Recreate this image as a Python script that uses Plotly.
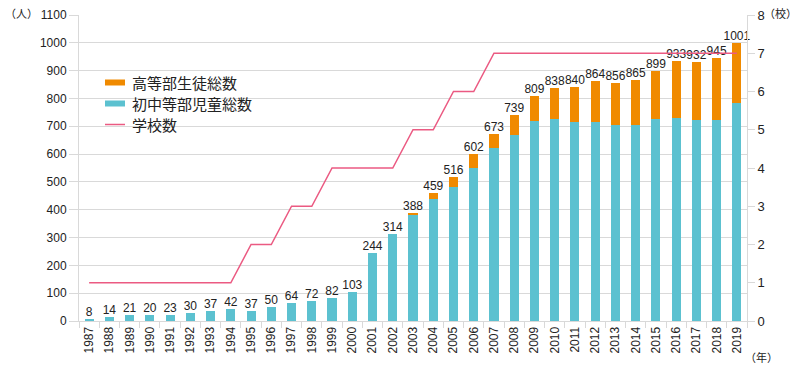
import plotly.graph_objects as go

years = [str(y) for y in range(1987, 2020)]
elementary = [8, 14, 21, 20, 23, 30, 37, 42, 37, 50, 64, 72, 82, 103, 244, 314,
              384, 440, 480, 551, 622, 668, 719, 725, 716, 715, 704, 704, 725, 731, 722, 722, 783]
high = [0, 0, 0, 0, 0, 0, 0, 0, 0, 0, 0, 0, 0, 0, 0, 0,
        4, 19, 36, 51, 51, 71, 90, 113, 124, 149, 152, 161, 174, 202, 210, 223, 218]
totals = [8, 14, 21, 20, 23, 30, 37, 42, 37, 50, 64, 72, 82, 103, 244, 314,
          388, 459, 516, 602, 673, 739, 809, 838, 840, 864, 856, 865, 899, 933, 932, 945, 1001]
schools = [1, 1, 1, 1, 1, 1, 1, 1, 2, 2, 3, 3, 4, 4, 4, 4,
           5, 5, 6, 6, 7, 7, 7, 7, 7, 7, 7, 7, 7, 7, 7, 7, 7]

legend_names = ["高等部生徒総数", "初中等部児童総数", "学校数"]

ORANGE = "#F08A00"
BLUE = "#5CC1D0"
PINK = "#EB5A82"
GRID = "#D9D9D9"
TXT = "#222222"
FONT = "Liberation Sans, Arial, sans-serif"
JP = "Noto Sans CJK JP, sans-serif"

fig = go.Figure()
fig.add_trace(go.Bar(x=years, y=elementary, marker_color=BLUE, marker_line_width=0,
                     width=0.45, name=legend_names[1], showlegend=False))
fig.add_trace(go.Bar(x=years, y=high, marker_color=ORANGE, marker_line_width=0,
                     width=0.45, name=legend_names[0], showlegend=False))
fig.add_trace(go.Scatter(x=years, y=schools, mode="lines", yaxis="y2",
                         line=dict(color=PINK, width=1.5), name=legend_names[2],
                         showlegend=False))
fig.add_trace(go.Scatter(x=years, y=totals, mode="text", text=[str(t) for t in totals],
                         textposition="top center", textfont=dict(size=12, color=TXT, family=FONT),
                         cliponaxis=False, showlegend=False, hoverinfo="skip"))

fig.update_layout(
    width=800, height=370,
    margin=dict(l=79, r=53, t=15, b=49),
    paper_bgcolor="white", plot_bgcolor="white",
    barmode="stack", bargap=0.55,
    font=dict(family=FONT, size=12, color=TXT),
    xaxis=dict(type="category", range=[-0.5, len(years) - 0.5], tickangle=-90,
               ticks="outside", tickson="boundaries",
               ticklen=6, tickcolor=GRID, showline=True, linecolor=GRID, linewidth=1,
               showgrid=False, automargin=False,
               tickfont=dict(size=12, color=TXT, family=FONT)),
    yaxis=dict(range=[0, 1100], dtick=100, showgrid=True, gridcolor=GRID, gridwidth=1,
               ticks="outside", ticklen=9, tickcolor=GRID, showline=True, linecolor=GRID,
               zeroline=False, automargin=False,
               tickfont=dict(size=12, color=TXT, family=FONT)),
    yaxis2=dict(range=[0, 8], dtick=1, overlaying="y", side="right", showgrid=False,
                ticks="outside", ticklen=7, tickcolor=GRID, showline=True, linecolor=GRID,
                zeroline=False, automargin=False,
                tickfont=dict(size=13, color=TXT, family=FONT)),
)

# Manual legend
shapes = [
    dict(type="rect", xref="paper", yref="paper", x0=(105-79)/668, x1=(125-79)/668,
         y0=(321-85.5)/306, y1=(321-79.5)/306, fillcolor=ORANGE, line_width=0),
    dict(type="rect", xref="paper", yref="paper", x0=(105-79)/668, x1=(125-79)/668,
         y0=(321-106.5)/306, y1=(321-100.5)/306, fillcolor=BLUE, line_width=0),
    dict(type="line", xref="paper", yref="paper", x0=(105-79)/668, x1=(125-79)/668,
         y0=(321-124.5)/306, y1=(321-124.5)/306, line=dict(color=PINK, width=1.5)),
]
fig.update_layout(shapes=shapes)
for name, yc in zip(legend_names, [82.5, 103.5, 124.5]):
    fig.add_annotation(text=name, xref="paper", yref="paper", x=(130-79)/668, y=(321-yc)/306,
                       xanchor="left", yanchor="middle", showarrow=False,
                       font=dict(family=JP, size=15, color=TXT))

# Unit labels
for text, x, y in [("（人）", 22, 13), ("（校）", 780, 13), ("（年）", 761, 357)]:
    fig.add_annotation(text=text, xref="paper", yref="paper", x=(x-79)/668, y=(321-y)/306,
                       xanchor="center", yanchor="middle", showarrow=False,
                       font=dict(family=JP, size=11, color=TXT))

fig.write_html("out.html", config={"displayModeBar": False},
               post_script="document.body.style.margin='0';document.body.style.overflow='hidden';")
